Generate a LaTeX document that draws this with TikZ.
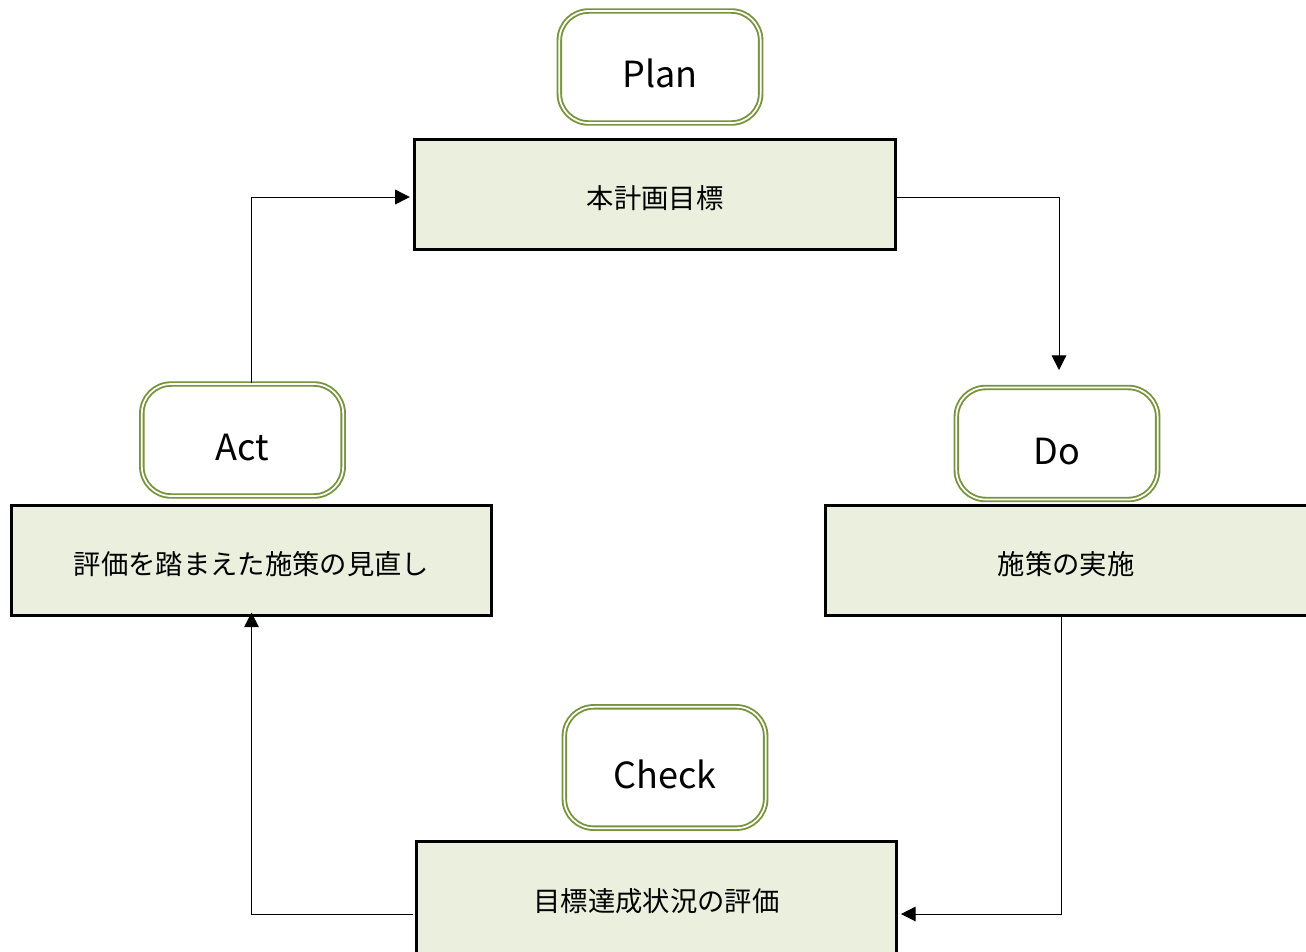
\documentclass[tikz,border=0pt]{standalone}
\usepackage{fontspec}
\setmainfont{Noto Sans CJK JP}
\usetikzlibrary{arrows.meta}
\definecolor{boxfill}{HTML}{EBEFDE}
\definecolor{labgreen}{HTML}{77933C}
\tikzset{
  stagebox/.style={draw=black, line width=2.25pt, fill=boxfill, rectangle,
    minimum width=360.5pt, minimum height=82.5pt, inner sep=0pt,
    text height=23.5pt, text depth=2pt,
    font=\fontsize{20.5pt}{24pt}\selectfont},
  phaselabel/.style={draw=labgreen, double=white, line width=1.4pt, double distance=1.3pt,
    rounded corners=22pt, fill=white, minimum width=151pt, minimum height=84pt, inner sep=0pt,
    text height=31pt, text depth=0pt,
    font=\fontsize{27pt}{32pt}\selectfont},
  conn/.style={draw=black, line width=0.75pt, -{Triangle[length=11pt,width=11pt]}}
}
\begin{document}
\begin{tikzpicture}[x=0.75pt,y=-0.75pt]
\useasboundingbox (0,0) rectangle (1306,951);
\begin{scope}
\clip (0,0) rectangle (1306,951);
% stage boxes
\node[stagebox] (planbox) at (655,194) {本計画目標};
\node[stagebox] (actbox) at (251.5,560) {評価を踏まえた施策の見直し};
\node[stagebox, minimum width=364pt] (dobox) at (1068,560.5) {\hspace*{-3pt}施策の実施};
\node[stagebox, minimum height=87pt, text height=20.5pt] (checkbox) at (656.5,899) {目標達成状況の評価};
% phase labels
\node[phaselabel] (planlab) at (660,67) {Plan};
\node[phaselabel] (actlab) at (242.5,440) {Act};
\node[phaselabel] (dolab) at (1057,443.5) {Do};
\node[phaselabel, minimum height=91pt] (checklab) at (665,767.5) {Check};
% connectors
\coordinate (doin) at (1059,370);
\draw[conn] ([yshift=-2.25pt]planbox.east) -| (doin);
\draw[conn] ([xshift=-5.25pt]dobox.south) |- ([yshift=-11.25pt,xshift=2pt]checkbox.east);
\draw[conn] ([yshift=-11.25pt,xshift=-1.5pt]checkbox.west) -| ([yshift=3pt]actbox.south);
\draw[conn] ([xshift=6.4pt]actlab.north) |- ([yshift=-2.25pt,xshift=-2.5pt]planbox.west);
\end{scope}
\end{tikzpicture}
\end{document}
